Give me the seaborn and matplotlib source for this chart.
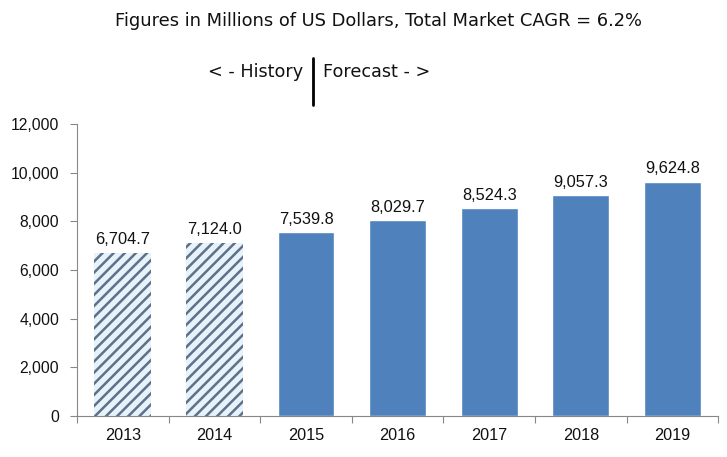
import matplotlib
matplotlib.use("Agg")
import matplotlib.pyplot as plt
import seaborn as sns
import pandas as pd

# Data
years = ["2013", "2014", "2015", "2016", "2017", "2018", "2019"]
values = [6704.7, 7124.0, 7539.8, 8029.7, 8524.3, 9057.3, 9624.8]
history_years = ["2013", "2014"]

BAR_COLOR = "#4F81BD"
HATCH_BG = "#E6F3FB"
HATCH_FG = "#5E7189"

df = pd.DataFrame({"Year": years, "Value": values})

sns.set_theme(style="white")
plt.rcParams["font.family"] = ["Liberation Sans", "DejaVu Sans"]
plt.rcParams["hatch.linewidth"] = 1.8

fig = plt.figure(figsize=(7.27, 4.57), dpi=100)
ax = fig.add_axes([0.106, 0.09, 0.882, 0.639])

sns.barplot(data=df, x="Year", y="Value", color=BAR_COLOR, width=0.62,
            saturation=1, ax=ax)

for patch, yr in zip(ax.patches, years):
    if yr in history_years:
        patch.set_facecolor(HATCH_BG)
        patch.set_edgecolor(HATCH_FG)
        patch.set_hatch("///")
        patch.set_linewidth(0)
    ax.annotate(f"{patch.get_height():,.1f}",
                (patch.get_x() + patch.get_width() / 2, patch.get_height()),
                xytext=(0, 4), textcoords="offset points",
                ha="center", va="bottom", fontsize=11.8, color="#111111")

ax.set_ylim(0, 12000)
ax.set_xlim(-0.5, len(years) - 0.5)
ax.set_yticks(range(0, 12001, 2000))
ax.set_yticklabels([f"{v:,}" for v in range(0, 12001, 2000)], fontsize=11.3,
                   color="#111111")
ax.set_xticks(range(len(years)))
ax.set_xticklabels(years, fontsize=11.7, color="#111111")
ax.tick_params(axis="x", length=0, pad=9)
ax.tick_params(axis="y", length=5, width=0.8, color="#888888", left=True, pad=8)
# boundary ticks between categories
ax.set_xticks([i - 0.5 for i in range(len(years) + 1)], minor=True)
ax.tick_params(axis="x", which="minor", length=5, width=0.8, color="#888888",
               bottom=True, direction="out")
ax.set_xlabel("")
ax.set_ylabel("")
for side in ["top", "right"]:
    ax.spines[side].set_visible(False)
for side in ["left", "bottom"]:
    ax.spines[side].set_color("#888888")
    ax.spines[side].set_linewidth(0.8)

fig.text(0.52, 0.955, "Figures in Millions of US Dollars, Total Market CAGR = 6.2%",
         ha="center", va="center", fontsize=12.9, family="DejaVu Sans", color="#111111")
fig.text(0.417, 0.843, "< - History", ha="right", va="center", fontsize=12.7,
         family="DejaVu Sans", color="#111111")
fig.text(0.444, 0.843, "Forecast - >", ha="left", va="center", fontsize=12.7,
         family="DejaVu Sans", color="#111111")
fig.add_artist(plt.Line2D([0.431, 0.431], [0.77, 0.873], color="black", linewidth=2))

fig.savefig("out.png", dpi=100)
